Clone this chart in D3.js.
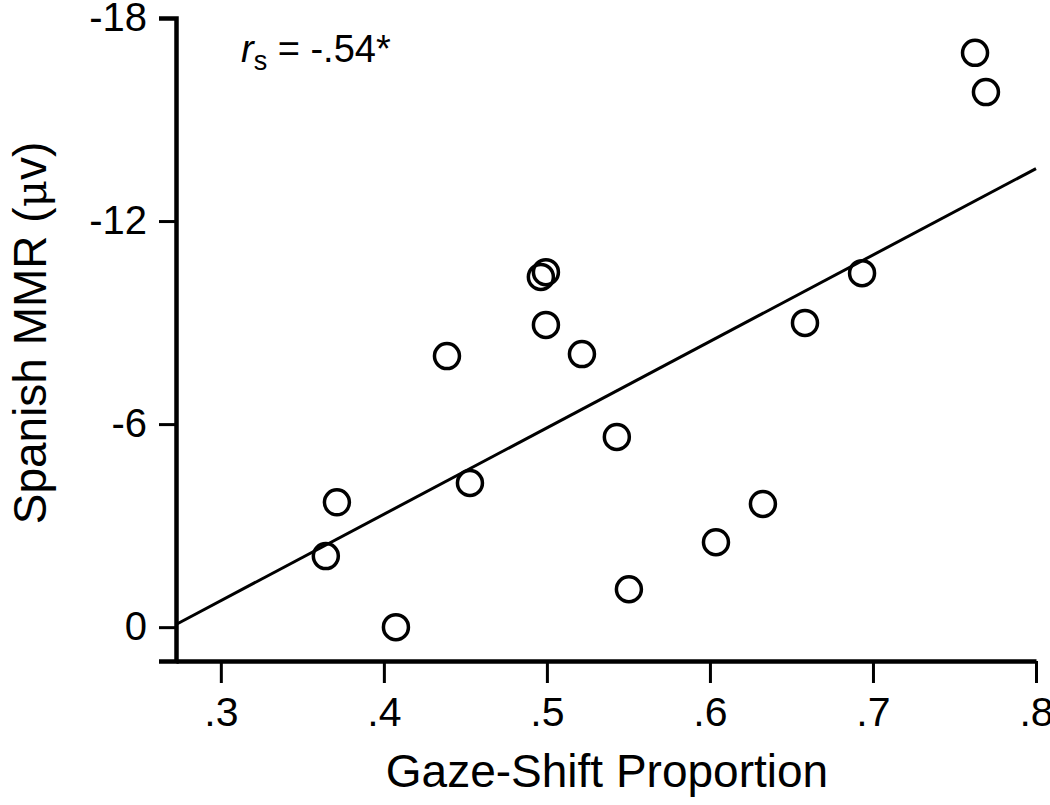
<!DOCTYPE html>
<html>
<head>
<meta charset="utf-8">
<script src="https://d3js.org/d3.v7.min.js"></script>
<style>
	body { margin: 0; background: #fff; }
	svg { display: block; font-family: "Liberation Sans", Arial, Helvetica, sans-serif; }
	.axis path, .axis line { stroke: #000; }
	.axis text { fill: #000; }
</style>
</head>
<body>
<div id="chart"></div>
<script>

// gaze-shift proportion vs Spanish MMR, one circle per infant
var gazeShift = [0.3644, 0.3712, 0.4074, 0.4387, 0.4528, 0.4963, 0.4994, 0.4994, 0.5215, 0.5429, 0.5503, 0.6037, 0.6325, 0.6583, 0.6933, 0.7626, 0.7693];
var spanishMMR = [-2.1, -3.69, 0.0, -8.01, -4.26, -10.35, -10.49, -8.93, -8.07, -5.62, -1.12, -2.51, -3.64, -8.99, -10.46, -16.97, -15.81];

// regression line end points
var fitX = [0.2725, 0.8];
var fitY = [-0.08, -13.55];

var xTicks = [0.3, 0.4, 0.5, 0.6, 0.7, 0.8];
var xTickLabels = ['.3', '.4', '.5', '.6', '.7', '.8'];
var yTicks = [0, -6, -12, -18];
var yTickLabels = ['0', '-6', '-12', '-18'];

var width = 1050,
	height = 805;

var svg = d3.select('#chart').append('svg')
	.attr('width', width)
	.attr('height', height);

var x = d3.scaleLinear()
	.domain([0.2725, 0.8])
	.range([176, 1036]);

var y = d3.scaleLinear()
	.domain([1, -18])
	.range([661, 18]);

var xAxis = svg.append('g')
	.attr('class', 'axis')
	.attr('transform', 'translate(0,' + y(1) + ')')
	.call(d3.axisBottom(x)
		.tickValues(xTicks)
		.tickSize(22)
		.tickSizeOuter(0)
		.tickPadding(14)
		.tickFormat((d, i) => xTickLabels[i]));

xAxis.select('.domain').attr('stroke-width', 4.5);
xAxis.selectAll('.tick line').attr('stroke-width', 3);
xAxis.selectAll('.tick text')
	.attr('font-size', 41)
	.attr('font-family', null);

var yAxis = svg.append('g')
	.attr('class', 'axis')
	.attr('transform', 'translate(' + x(0.2725) + ',0)')
	.call(d3.axisLeft(y)
		.tickValues(yTicks)
		.tickSize(17)
		.tickSizeOuter(17)
		.tickPadding(12)
		.tickFormat((d, i) => yTickLabels[i]));

yAxis.select('.domain').attr('stroke-width', 4.5);
yAxis.selectAll('.tick line').attr('stroke-width', 3);
yAxis.selectAll('.tick text')
	.attr('font-size', 40)
	.attr('font-family', null);

svg.append('line')
	.attr('x1', x(fitX[0]))
	.attr('y1', y(fitY[0]))
	.attr('x2', x(fitX[1]))
	.attr('y2', y(fitY[1]))
	.attr('stroke', '#000')
	.attr('stroke-width', 3);

svg.append('g')
	.selectAll('circle')
	.data(gazeShift)
	.enter()
	.append('circle')
	.attr('cx', (d) => x(d))
	.attr('cy', (d, i) => y(spanishMMR[i]))
	.attr('r', 12.5)
	.attr('fill', 'none')
	.attr('stroke', '#000')
	.attr('stroke-width', 3.5);

// axis titles
svg.append('text')
	.attr('x', 607)
	.attr('y', 787)
	.attr('text-anchor', 'middle')
	.attr('font-size', 46)
	.text('Gaze-Shift Proportion');

var yTitle = svg.append('text')
	.attr('transform', 'translate(46,333) rotate(-90)')
	.attr('text-anchor', 'middle')
	.attr('font-size', 46);
yTitle.append('tspan').text('Spanish MMR (');
yTitle.append('tspan').attr('font-family', '"DejaVu Serif", "Liberation Serif", serif').attr('font-size', 42).text('\u03bc');
yTitle.append('tspan').text('v)');

// correlation note
var note = svg.append('text')
	.attr('x', 241)
	.attr('y', 62)
	.attr('font-size', 38);
note.append('tspan').attr('font-style', 'italic').text('r');
note.append('tspan').attr('font-size', 27).attr('dy', 8).text('s');
note.append('tspan').attr('dy', -8).text(' = -.54*');

</script>
</body>
</html>
